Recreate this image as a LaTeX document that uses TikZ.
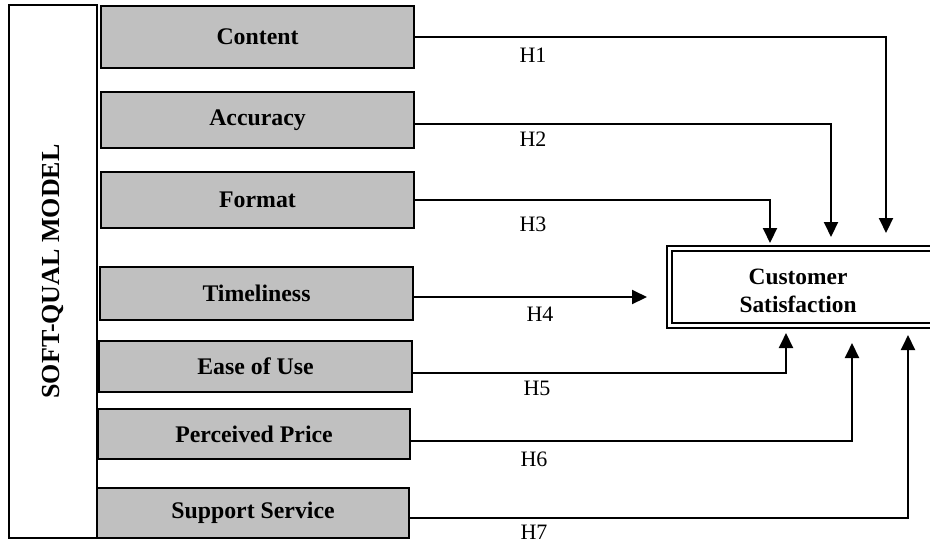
\documentclass[tikz,border=0pt]{standalone}
\usepackage{fontspec}
\setmainfont{Liberation Serif}
\usepackage{xcolor}
\definecolor{boxgray}{HTML}{C0C0C0}
\usetikzlibrary{arrows.meta}

\begin{document}
\begin{tikzpicture}[x=0.5pt, y=-0.5pt, line width=1pt,
	factor/.style={draw, fill=boxgray, minimum width=156.5pt, inner sep=0pt, font=\fontsize{11.9}{14}\selectfont\bfseries},
	link/.style={-{Triangle[length=7.5pt, width=7pt]}},
	hyp/.style={font=\fontsize{11}{13}\selectfont}]
	
	\useasboundingbox (0,0) rectangle (930,543);
	
	% model frame
	\node[draw, rotate=90, minimum width=266.5pt, minimum height=44pt, inner sep=0pt, font=\fontsize{13}{15}\selectfont\bfseries] (model) at (53,271.5) {SOFT-QUAL MODEL};
	
	% factors
	\node[factor, minimum height=31pt] (content) at (257.5,37) {Content};
	\node[factor, minimum height=28pt] (accuracy) at (257.5,120) {Accuracy};
	\node[factor, minimum height=28pt] (format) at (257.5,200) {Format};
	\node[factor, minimum height=26.5pt] (timeliness) at (256.5,293.5) {Timeliness};
	\node[factor, minimum height=25.5pt] (ease) at (255.5,366.5) {Ease of Use};
	\node[factor, minimum width=156pt, minimum height=25pt] (price) at (254,434) {Perceived Price};
	\node[factor, minimum width=156pt, minimum height=25pt] (support) at (253,513) {Support Service};
	
	% outcome
	\draw[double, double distance=1.5pt] (669.5,248.5) rectangle (960,325.5);
	\node[align=center, font=\fontsize{11.7}{14}\selectfont\bfseries] (satisfaction) at (798,291) {Customer\\Satisfaction};
	
	\coordinate (t1) at (886,233);
	\coordinate (t2) at (831,237);
	\coordinate (t3) at (770,243);
	\coordinate (t4) at (647,297);
	\coordinate (t5) at (786,333);
	\coordinate (t6) at (852,343);
	\coordinate (t7) at (908,335);
	
	\draw[link] (content.east) -| (t1);
	\draw[link] ([yshift=-2pt]accuracy.east) -| (t2);
	\draw[link] (format.east) -| (t3);
	\draw[link] ([yshift=-1.75pt]timeliness.east) -- (t4);
	\draw[link] ([yshift=-3.25pt]ease.east) -| (t5);
	\draw[link] ([yshift=-3.5pt]price.east) -| (t6);
	\draw[link] ([yshift=-2.5pt]support.east) -| (t7);
	
	\foreach \i/\x/\y in {1/533/55, 2/533/139, 3/533/224, 4/540/314, 5/537/388, 6/534/459, 7/534/532} {
		\node[hyp] (h\i) at (\x,\y) {H\i};
	}
\end{tikzpicture}
\end{document}
